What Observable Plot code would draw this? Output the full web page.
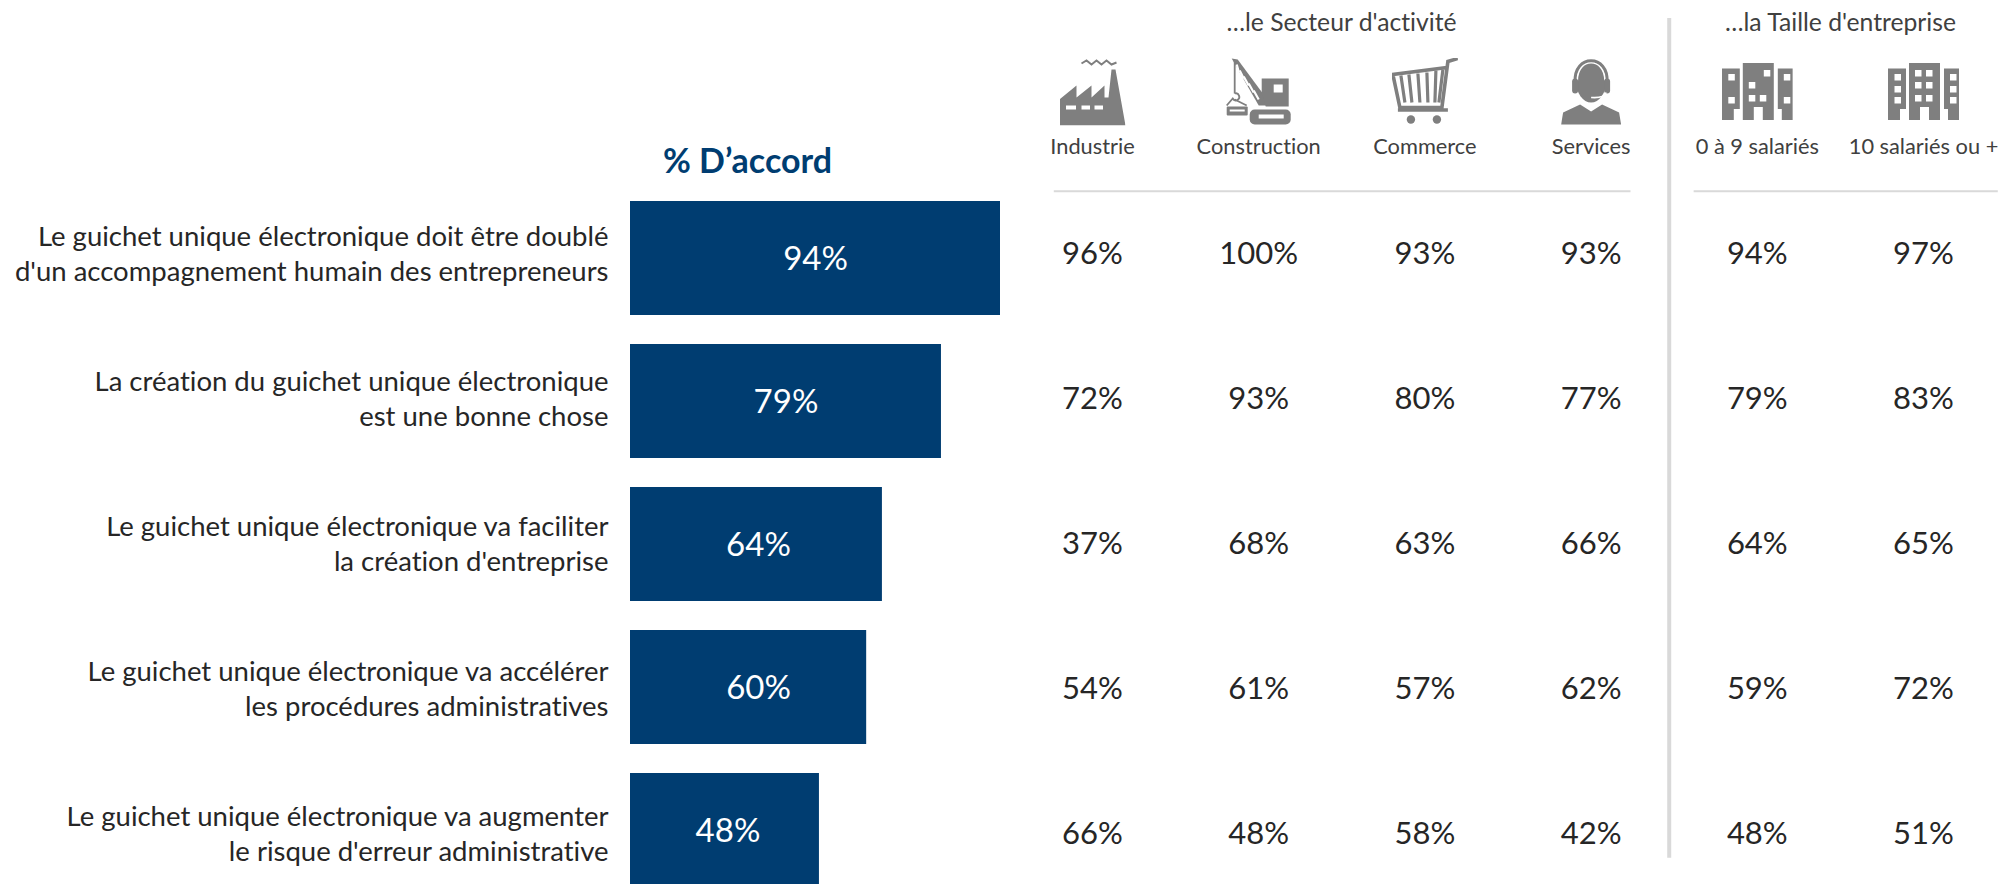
<!DOCTYPE html>
<html lang="fr"><head><meta charset="utf-8">
<script src="https://cdn.jsdelivr.net/npm/d3@7"></script>
<script src="https://cdn.jsdelivr.net/npm/@observablehq/plot@0.6"></script>
<style>
html,body{margin:0;padding:0;background:#fff;overflow:hidden}
#c{position:relative;width:2001px;height:884px;overflow:hidden}
#c svg{position:absolute;left:0;top:0;background:transparent;overflow:hidden;font-variant-ligatures:none}
</style></head><body><div id="c"></div>
<script>
const statements = [
  "Le guichet unique électronique doit être doublé\nd'un accompagnement humain des entrepreneurs",
  "La création du guichet unique électronique\nest une bonne chose",
  "Le guichet unique électronique va faciliter\nla création d'entreprise",
  "Le guichet unique électronique va accélérer\nles procédures administratives",
  "Le guichet unique électronique va augmenter\nle risque d'erreur administrative"
];
const agree = [94, 79, 64, 60, 48];
const columns = ["Industrie","Construction","Commerce","Services","0 à 9 salariés","10 salariés ou +"];
const industrie = [96, 72, 37, 54, 66];
const construction = [100, 93, 68, 61, 48];
const commerce = [93, 80, 63, 57, 58];
const services = [93, 77, 66, 62, 42];
const small = [94, 79, 64, 59, 48];
const large = [97, 83, 65, 72, 51];
const columnValues = [industrie, construction, commerce, services, small, large];

const G = "#7f7f7f";
const svgIcon = (w,h,body)=>"data:image/svg+xml,"+encodeURIComponent(`<svg xmlns="http://www.w3.org/2000/svg" viewBox="0 0 ${w} ${h}" width="${w}" height="${h}">${body}</svg>`);
const win = (x,y,w=6.5,h=6.5)=>`<rect x="${x}" y="${y}" width="${w}" height="${h}" fill="#fff"/>`;
const towers = `<path fill="${G}" d="M0 5.5H18V46H12V57H0ZM21 0H52V57H41V44H32V57H21ZM56 5.5H71V57H60V46H56Z"/>`;
const icons = [
  svgIcon(66,68,`<path d="M22 6l5-3 5 4 5-4 5 4 5-4 5 4 5-2" fill="none" stroke="${G}" stroke-width="2"/>
   <path fill="${G}" d="M52 12h4l10 56H0V42L17 28V40L32 28V40L45 28V40h4z"/>
   <rect x="6.5" y="48" width="10" height="4" fill="#fff"/><rect x="22" y="48" width="8.5" height="4" fill="#fff"/><rect x="35" y="48" width="8.5" height="4" fill="#fff"/>`),
  svgIcon(66,68,`<path d="M6 1L12 2L46 48H33Z" fill="${G}"/>
   <path d="M11 7L13 14M14 13L18 21M18 19L23 28M23 26L28 35M28 33L33 42" stroke="#fff" stroke-width="2.2"/>
   <path d="M9 3V36" stroke="${G}" stroke-width="1.8"/>
   <path d="M9 36a3.5 3.5 0 1 1-2 5L1 48M9 42l12 6" fill="none" stroke="${G}" stroke-width="1.8"/>
   <rect x="1" y="49" width="21" height="9" rx="1" fill="${G}"/><rect x="4" y="52" width="15" height="2" fill="#fff"/>
   <path fill="${G}" d="M36 21H63V49H40L36 36Z"/><rect x="48" y="27" width="9" height="8" fill="#fff"/>
   <rect x="24" y="52" width="41" height="15" rx="5" fill="${G}"/><rect x="33" y="57" width="25" height="4" fill="#fff"/>`),
  svgIcon(66,68,`<path d="M66 1L56 4L50 50H8L1 17L55 10" fill="none" stroke="${G}" stroke-width="3.6"/>
   <path d="M9 18L13 45M17 17L20 45M26 16L28 45M35 15L36 45M44 13L43 45M51 12L47 45" stroke="${G}" stroke-width="3.2"/>
   <path d="M6 52.5H56" stroke="${G}" stroke-width="3.4"/>
   <circle cx="19" cy="62" r="4.2" fill="${G}"/><circle cx="45" cy="62" r="4.2" fill="${G}"/>`),
  svgIcon(60,66,`<path fill="${G}" d="M0 66L2 54L19 46L30 53L41 46L58 54L60 66Z"/>
   <ellipse cx="30" cy="23" rx="15" ry="21" fill="${G}"/>
   <path d="M16 22C16 -2 44 -2 44 22" fill="none" stroke="#fff" stroke-width="2"/>
   <path d="M14 24C12 -5 48 -5 46 24" fill="none" stroke="${G}" stroke-width="3"/>
   <rect x="11" y="20" width="6" height="15" rx="3" fill="${G}"/><rect x="43" y="20" width="6" height="15" rx="3" fill="${G}"/>
   <path d="M45 34Q43 40 30 39" fill="none" stroke="#fff" stroke-width="1.6"/>`),
  svgIcon(71,57,towers+win(6.5,11)+win(6.5,34)+win(42,7)+win(27,19)+win(27,32)+win(38,32)+win(62,11)+win(62,34)),
  svgIcon(71,57,towers+win(6.5,11)+win(6.5,23)+win(6.5,34)+win(27,7)+win(38,7)+win(27,19)+win(38,19)+win(27,32)+win(38,32)+win(62,11)+win(62,23)+win(62,34))
];

const font = "Lato, Carlito, sans-serif";
const rowIdx = statements.map((_,i)=>i);
const colIdx = columns.map((_,i)=>i);
const cells = columnValues.flatMap((vals,c)=>vals.map((v,r)=>({c,r,v})));

// Bars
const barOffsets = [0,0,2,10,3];
const bars = agree.map((v,i)=>({s:statements[i],v,dx:barOffsets[i]}));
const barPlot = Plot.plot({
  width:2001,height:884,margin:0,
  style:{fontFamily:font,background:"transparent"},
  x:{domain:[0,94],range:[630,1000],axis:null},
  y:{domain:statements,range:[200,888],paddingInner:0.205,paddingOuter:0,axis:null},
  marks:[
    Plot.barX(bars,{x:"v",y:"s",fill:"#003d71"}),
    ...bars.map(b=>Plot.text([b],{x:d=>d.v/2,y:"s",text:d=>d.v+"%",dx:b.dx,dy:1,fill:"#fff",fontSize:33})),
    Plot.text(["% D’accord"],{frameAnchor:"top-left",dx:747,dy:162,textAnchor:"middle",lineAnchor:"middle",fill:"#003d71",fontWeight:700,fontSize:34})
  ]
});

// Table, statements and headers
const table = Plot.plot({
  width:2001,height:884,margin:0,
  style:{fontFamily:font,background:"transparent"},
  x:{domain:[0,5],range:[1092,1923],axis:null},
  y:{domain:[0,4],range:[253,833],axis:null},
  marks:[
    Plot.ruleX([3.47],{y1:-1.62,y2:4.17,stroke:"#d9d9d9",strokeWidth:4}),
    Plot.ruleY([-0.43],{x1:-0.23,x2:3.24,stroke:"#d9d9d9",strokeWidth:2}),
    Plot.ruleY([-0.43],{x1:3.62,x2:5.45,stroke:"#d9d9d9",strokeWidth:2}),
    Plot.image(colIdx,{x:d=>d,src:d=>icons[d],frameAnchor:"top",dy:91,
      width:d=>d>3?71:d==3?60:66,height:d=>d>3?57:68}),
    Plot.text(colIdx,{x:d=>d,text:d=>columns[d],frameAnchor:"top",dy:147,lineAnchor:"middle",fill:"#404040",fontSize:21.8}),
    Plot.text(["…le Secteur d'activité"],{frameAnchor:"top-left",dx:1341,dy:23,textAnchor:"middle",lineAnchor:"middle",fill:"#404040",fontSize:24.7}),
    Plot.text(["…la Taille d'entreprise"],{frameAnchor:"top-left",dx:1840,dy:23,textAnchor:"middle",lineAnchor:"middle",fill:"#404040",fontSize:24.7}),
    Plot.text(cells,{x:"c",y:"r",text:d=>d.v+"%",dy:1,fill:"#262626",fontSize:31}),
    Plot.text(rowIdx,{y:d=>d,text:d=>statements[d],frameAnchor:"left",dx:608,dy:-1,textAnchor:"end",lineHeight:1.27,fill:"#262626",fontSize:27.5})
  ]
});
document.getElementById("c").append(barPlot,table);
</script></body></html>
